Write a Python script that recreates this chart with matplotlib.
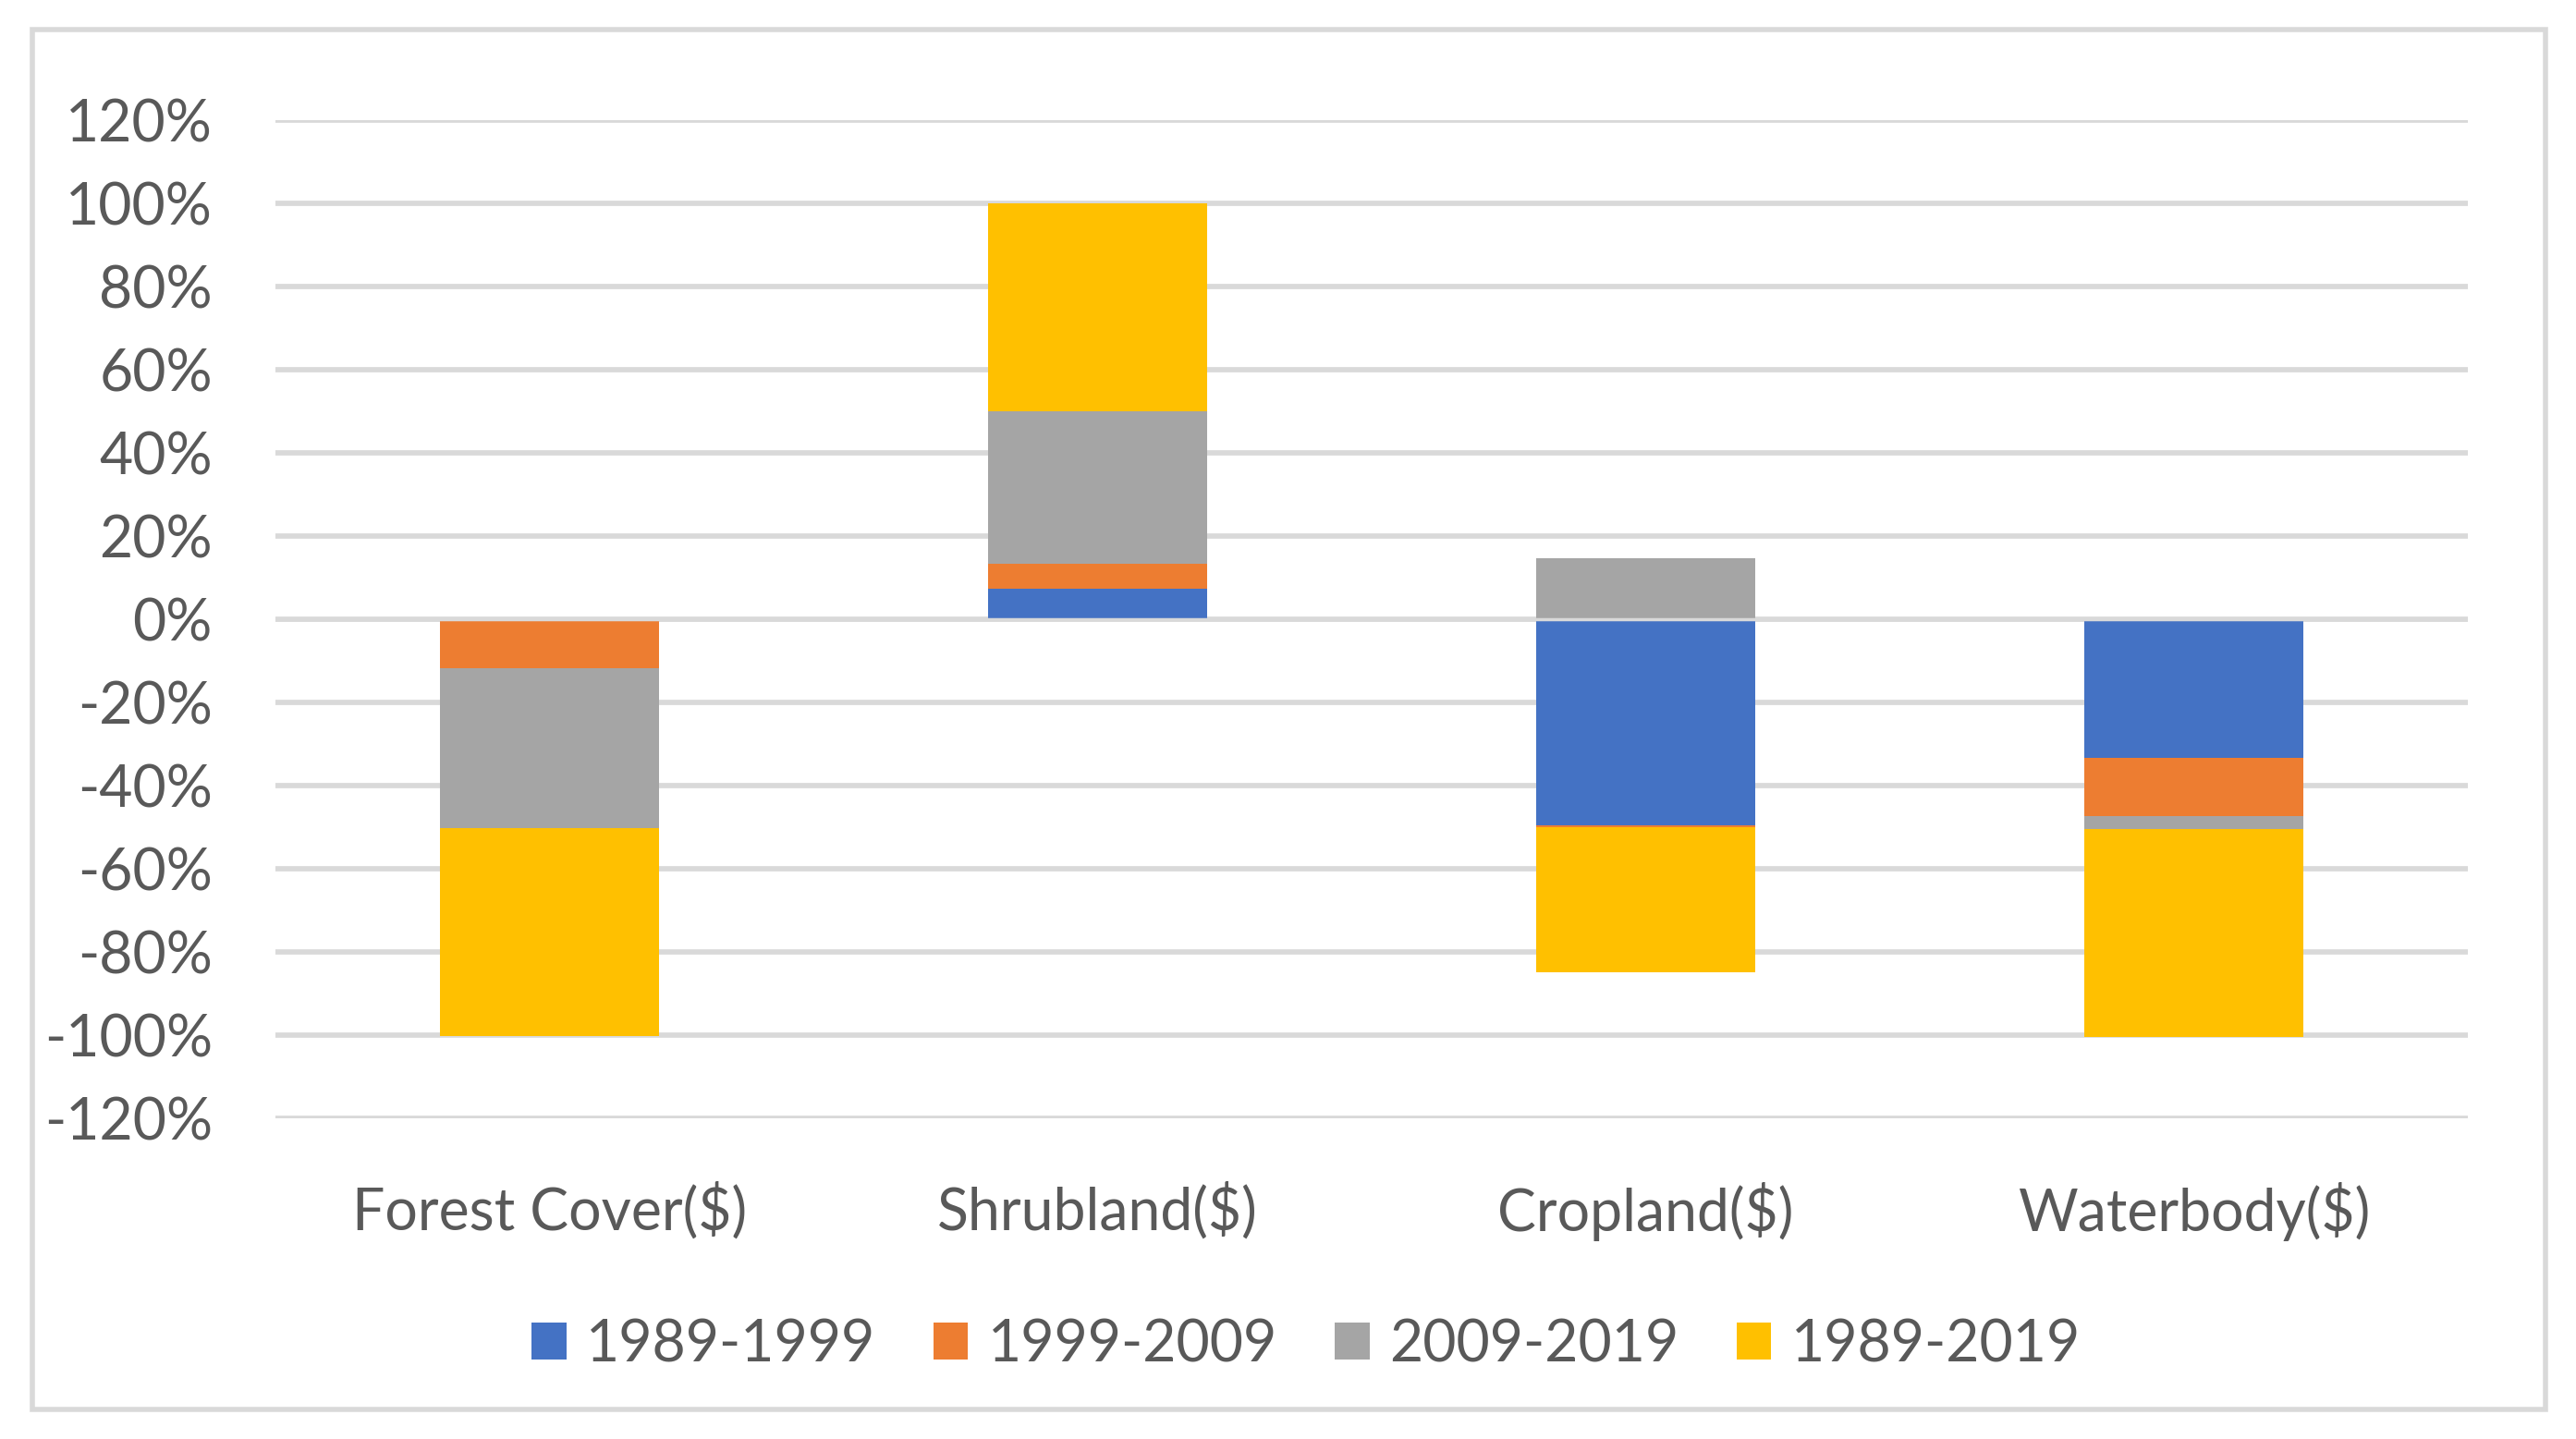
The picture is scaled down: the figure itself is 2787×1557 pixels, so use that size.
import numpy as np
import matplotlib.pyplot as plt
from matplotlib.patches import Rectangle

categories = ["Forest Cover($)", "Shrubland($)", "Cropland($)", "Waterbody($)"]
periods = ["1989-1999", "1999-2009", "2009-2019", "1989-2019"]
colors = ["#4472C4", "#ED7D31", "#A5A5A5", "#FFC000"]

# percent change per period
v_1989_1999 = [0.0, 7.3, -49.5, -33.3]
v_1999_2009 = [-11.8, 6.1, -0.5, -14.0]
v_2009_2019 = [-38.5, 36.6, 14.7, -3.2]
v_1989_2019 = [-50.0, 50.0, -35.0, -50.0]
series = [v_1989_1999, v_1999_2009, v_2009_2019, v_1989_2019]

plt.rcParams['font.family'] = ['Lato', 'DejaVu Sans']
txt_color = '#595959'
grid_color = '#D9D9D9'

fig = plt.figure(figsize=(27.87, 15.57), dpi=100)
ax = fig.add_axes([0.1069, 0.2229, 0.8512, 0.6936])

x = np.arange(len(categories))
pos_base = np.zeros(len(categories))
neg_base = np.zeros(len(categories))
for vals, lab, col in zip(series, periods, colors):
    vals = np.array(vals)
    bottoms = np.where(vals >= 0, pos_base, neg_base)
    ax.bar(x, vals, width=0.4, bottom=bottoms, color=col, label=lab, zorder=3)
    pos_base = pos_base + np.where(vals >= 0, vals, 0)
    neg_base = neg_base + np.where(vals < 0, vals, 0)

ax.set_xlim(-0.5, 3.5)
ax.set_ylim(-120, 120)
ticks = np.arange(-120, 121, 20)
ax.set_yticks(ticks)
ax.set_yticklabels([f"{t}%" for t in ticks])
ax.set_xticks(x)
ax.set_xticklabels(categories)
ax.grid(axis='y', color=grid_color, linewidth=4.1, zorder=0)
ax.axhline(0, color=grid_color, linewidth=2.5, zorder=4)
ax.tick_params(axis='y', length=0, pad=49, labelsize=45, labelcolor=txt_color)
ax.tick_params(axis='x', length=0, pad=50, labelsize=45, labelcolor=txt_color)
for s in ax.spines.values():
    s.set_visible(False)

fig.legend(loc='center', bbox_to_anchor=(0.507, 0.0655), ncol=4, frameon=False,
           fontsize=45, labelcolor=txt_color, handlelength=0.6, handleheight=0.6,
           handletextpad=0.34, columnspacing=1.0)

# outer chart border
fig.patches.append(Rectangle((35 / 2787, 1 - 1525 / 1557), (2754 - 35) / 2787, (1525 - 32) / 1557,
                             transform=fig.transFigure, fill=False, edgecolor=grid_color, linewidth=4))

fig.savefig("out.png", dpi=100)
